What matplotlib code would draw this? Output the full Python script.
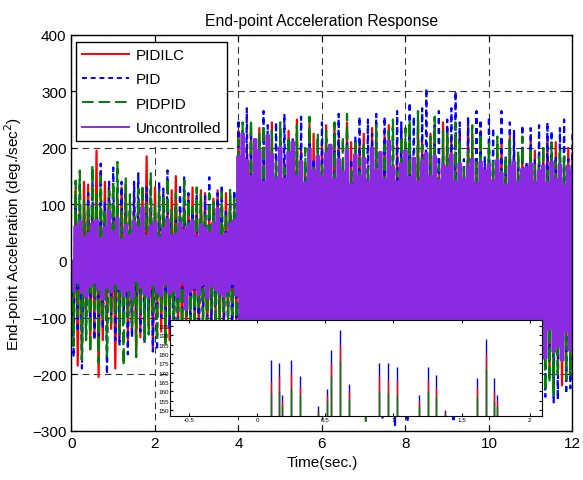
import numpy as np
import matplotlib.pyplot as plt

plt.rcParams['font.family'] = ['Liberation Sans', 'DejaVu Sans']

# all responses: peak values every 0.05 s, 0..12 s
uncontrolled = [
    0, -52, 61, -38, 70, -55, 42, -63, 49, -45, 66, -38, 72, -50, 40, -67, 60, -47, 88, -54,
    52, -40, 75, -49, 37, -62, 63, -51, 45, -66, 70, -35, 59, -46, 95, -58, 44, -64, 62, -42,
    69, -55, 41, -61, 58, -40, 73, -57, 45, -52, 47, -63, 66, -39, 55, -85, 62, -54, 71, -47,
    43, -60, 64, -41, 58, -65, 50, -44, 67, -50, 92, -58, 45, -62, 48, -53, 66, -40, 72, -60,
    185, -170, 225, -140, 178, -190, 150, -175, 215, -145, 195, -165, 140, -178, 222, -150, 188, -160, 145, -185,
    200, -172, 145, -188, 192, -150, 210, -180, 150, -158, 176, -192, 138, -175, 198, -145, 160, -178, 185, -150,
    150, -170, 190, -140, 205, -188, 145, -175, 180, -150, 158, -168, 196, -145, 135, -162, 188, -190, 150, -172,
    182, -145, 140, -165, 200, -185, 160, -150, 192, -182, 145, -160, 212, -150, 165, -175, 140, -195, 172, -150,
    195, -180, 148, -172, 182, -150, 140, -165, 175, -178, 190, -145, 150, -160, 185, -192, 142, -175, 170, -150,
    165, -150, 188, -185, 140, -178, 172, -165, 145, -190, 168, -150, 180, -180, 138, -168, 175, -150, 160, -175,
    170, -165, 142, -180, 178, -150, 155, -188, 135, -170, 168, -145, 175, -182, 140, -175, 162, -150, 165, -190,
    172, -150, 140, -165, 160, -135, 168, -172, 138, -120, 175, -160, 145, -150, 170, -175, 135, -125, 168, -158,
    160,
]

pidilc = [
    0, -120, 130, -185, 95, -165, 140, -100, 135, -145, 100, -130, 195, -205, 90, -140, 140, -110, 140, -120,
    100, -190, 120, -135, 130, -95, 135, -140, 90, -130, 120, -160, 105, -135, 125, -100, 185, -120, 95, -155,
    130, -100, 90, -125, 120, -145, 100, -140, 125, -95, 150, -120, 85, -135, 110, -135, 115, -90, 130, -115,
    95, -130, 125, -88, 120, -138, 90, -120, 110, -100, 125, -120, 85, -132, 120, -90, 105, -125, 88, -112,
    230, -215, 165, -230, 205, -170, 240, -220, 160, -235, 235, -175, 200, -220, 165, -225, 245, -180, 170, -215,
    235, -170, 175, -225, 230, -245, 165, -215, 250, -175, 205, -220, 160, -235, 240, -170, 225, -220, 175, -225,
    210, -225, 240, -170, 165, -230, 235, -180, 215, -235, 165, -210, 245, -175, 210, -215, 170, -235, 215, -175,
    225, -240, 165, -225, 235, -170, 215, -235, 170, -225, 220, -175, 240, -235, 165, -215, 210, -175, 235, -220,
    170, -230, 240, -225, 175, -235, 250, -170, 215, -230, 165, -240, 225, -175, 240, -225, 170, -235, 245, -180,
    235, -175, 215, -230, 170, -225, 225, -235, 165, -220, 240, -175, 220, -230, 170, -215, 230, -225, 165, -220,
    200, -215, 170, -230, 205, -175, 215, -235, 165, -210, 220, -170, 195, -215, 165, -230, 200, -215, 170, -210,
    210, -175, 195, -215, 165, -230, 200, -170, 215, -205, 170, -225, 210, -175, 190, -220, 165, -210, 200, -175,
    190,
]

pid = [
    0, -170, 110, -125, 140, -190, 85, -130, 120, -105, 150, -140, 95, -160, 172, -120, 105, -200, 140, -95,
    165, -140, 90, -150, 140, -110, 125, -165, 95, -135, 140, -100, 155, -125, 88, -145, 130, -95, 140, -160,
    85, -158, 140, -100, 128, -95, 160, -120, 80, -170, 100, -130, 135, -95, 150, -110, 120, -138, 88, -135,
    118, -150, 90, -125, 115, -100, 148, -112, 85, -145, 120, -90, 135, -125, 92, -120, 115, -142, 125, -105,
    250, -235, 180, -250, 270, -185, 230, -260, 175, -215, 210, -240, 265, -180, 240, -230, 170, -255, 245, -185,
    225, -180, 260, -230, 175, -255, 215, -175, 225, -230, 255, -180, 170, -215, 230, -245, 180, -225, 215, -255,
    245, -175, 215, -255, 170, -240, 225, -180, 260, -250, 175, -220, 230, -245, 180, -235, 220, -175, 255, -250,
    175, -240, 250, -265, 225, -180, 260, -245, 170, -280, 255, -235, 180, -245, 235, -290, 265, -170, 245, -230,
    180, -285, 280, -175, 255, -250, 185, -235, 270, -245, 305, -265, 175, -230, 240, -180, 265, -245, 185, -240,
    250, -175, 270, -285, 300, -180, 245, -240, 180, -230, 255, -260, 175, -245, 265, -180, 250, -240, 185, -250,
    255, -180, 235, -245, 175, -235, 265, -250, 185, -230, 245, -175, 230, -240, 180, -245, 240, -235, 175, -250,
    235, -245, 180, -230, 240, -255, 175, -240, 245, -180, 230, -250, 185, -245, 235, -175, 250, -235, 180, -225,
    230,
]

pidpid = [
    0, -150, 142, -98, 160, -175, 108, -140, 95, -162, 170, -85, 118, -180, 150, -105, 92, -168, 125, -110,
    140, -95, 175, -128, 88, -185, 146, -100, 118, -120, 85, -170, 128, -92, 135, -140, 100, -130, 155, -90,
    98, -140, 125, -88, 112, -150, 148, -95, 90, -158, 120, -112, 80, -145, 142, -98, 108, -125, 95, -120,
    130, -88, 118, -110, 82, -145, 120, -85, 105, -132, 92, -115, 122, -90, 85, -108, 128, -95, 110, -118,
    215, -200, 245, -160, 150, -240, 250, -205, 170, -225, 225, -165, 240, -235, 160, -210, 230, -180, 175, -200,
    245, -225, 165, -215, 220, -175, 185, -200, 240, -250, 160, -210, 200, -170, 255, -220, 165, -205, 225, -240,
    170, -215, 230, -160, 210, -200, 245, -175, 165, -220, 220, -235, 260, -170, 160, -225, 215, -245, 180, -215,
    210, -285, 165, -230, 190, -170, 240, -225, 175, -240, 205, -165, 230, -250, 250, -175, 160, -235, 220, -180,
    235, -170, 250, -240, 165, -215, 265, -180, 205, -245, 160, -220, 220, -175, 255, -240, 170, -230, 230, -165,
    225, -215, 160, -235, 245, -170, 210, -240, 165, -210, 195, -225, 240, -160, 175, -205, 225, -240, 165, -215,
    210, -170, 175, -210, 220, -235, 160, -215, 185, -165, 215, -230, 165, -220, 195, -170, 220, -225, 160, -215,
    200, -210, 170, -235, 185, -165, 205, -230, 160, -215, 210, -240, 175, -205, 200, -170, 185, -210, 165, -200,
    180,
]

# inset: spike positions and their tops
ins_t = [0.098, 0.163, 0.185, 0.247, 0.315, 0.449, 0.515, 0.543, 0.608, 0.672,
         0.897, 0.963, 1.024, 1.185, 1.254, 1.315, 1.380, 1.611, 1.677, 1.735, 1.757]
ins_pid = [177, 175, 158, 177, 168, 152, 161, 182, 193, 164,
           175, 175, 173, 158, 173, 169, 150, 167, 188, 167, 158]
ins_ilc = [165, 168, 155, 170, 163, 150, 158, 175, 185, 160,
           168, 166, 166, 155, 166, 162, 149, 162, 180, 160, 155]
ins_pidpid = [159, 160, 152, 162, 158, 149, 155, 168, 176, 156,
              160, 159, 158, 152, 160, 157, 148, 157, 172, 155, 152]

fig = plt.figure(figsize=(5.83, 4.81), dpi=100)
ax = fig.add_axes([0.1226, 0.1025, 0.8593, 0.8233])

def t_of(v):
    return np.linspace(0, 12, len(v))

ax.plot(t_of(pidilc), pidilc, color='red', lw=1.6, snap=False, label='PIDILC')
ax.plot(t_of(pid), pid, color='blue', lw=1.6, ls=(0, (2.5, 2)), snap=False, label='PID')
ax.plot(t_of(pidpid), pidpid, color='#008000', lw=1.6, ls=(0, (6, 2.5)), snap=False, label='PIDPID')
ax.plot(t_of(uncontrolled), uncontrolled, color='#8A2BE2', lw=1.9, drawstyle='steps-mid',
        snap=False, label='Uncontrolled')

ax.set_xlim(0, 12)
ax.set_ylim(-300, 400)
ax.set_xticks(range(0, 13, 2))
ax.set_yticks(range(-300, 401, 100))
ax.grid(True, color='#333333', ls=(0, (6, 4)), lw=0.8)
ax.set_axisbelow(True)
ax.tick_params(direction='in', top=True, right=True, labelsize=11, length=4)
for s in ax.spines.values():
    s.set_linewidth(1.0)
ax.set_title('End-point Acceleration Response', fontsize=11.3, pad=7)
ax.set_xlabel('Time(sec.)', fontsize=11)
ax.set_ylabel('End-point Acceleration (deg./sec$^2$)', fontsize=11, labelpad=6)

leg = ax.legend(loc='upper left', bbox_to_anchor=(0.009, 0.982), fontsize=11,
                fancybox=False, edgecolor='black', framealpha=1,
                handlelength=3.1, handletextpad=0.4, labelspacing=0.68, borderaxespad=0)
leg.get_frame().set_linewidth(1.0)
for h in leg.get_lines():
    h.set_linewidth(1.4)

ins = fig.add_axes([0.2916, 0.1331, 0.638, 0.1996])
ins.vlines(ins_t, 140, ins_pid, color='blue', lw=1.0)
ins.vlines(ins_t, 140, ins_ilc, color='red', lw=1.0)
ins.vlines(ins_t, 140, ins_pidpid, color='#008000', lw=1.0)
ins.set_xlim(-0.64, 2.09)
ins.set_ylim(146.8, 198.2)
ins.set_xticks([-0.5, 0, 0.5, 1, 1.5, 2])
ins.set_xticklabels(['-0.5', '0', '0.5', '1', '1.5', '2'])
ins.set_yticks(range(150, 196, 5))
ins.tick_params(direction='in', top=True, right=True, labelsize=4.5, length=2, pad=1)

fig.savefig('out.png', dpi=100)
